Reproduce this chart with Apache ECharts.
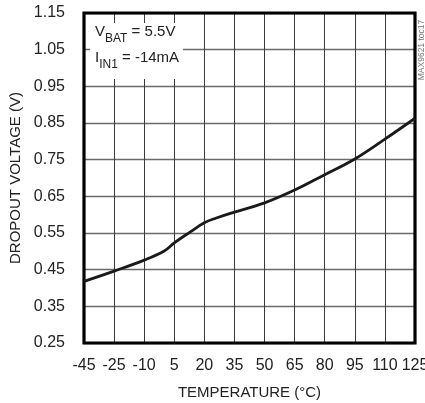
<!DOCTYPE html>
<html>
<head>
<meta charset="utf-8">
<script src="https://cdn.jsdelivr.net/npm/echarts@6/dist/echarts.min.js"></script>
<style>
  html, body { margin: 0; padding: 0; background: #fff; }
  #chart { width: 425px; height: 403px; }
</style>
</head>
<body>
<div id="chart"></div>
<script>
// Dropout voltage vs. temperature (V_BAT = 5.5V, I_IN1 = -14mA)
// Temperature positions along the axis (the left edge is the first tick)
const temperature = [-40, -25, -10, 0, 5, 13, 20, 26, 35, 50, 65, 80, 95, 110, 125];
const dropoutVoltage = [0.418, 0.446, 0.476, 0.501, 0.523, 0.553, 0.578, 0.591, 0.607, 0.632, 0.667, 0.709, 0.752, 0.806, 0.863];
const xTickLabels = ['-45', '-25', '-10', '5', '20', '35', '50', '65', '80', '95', '110', '125'];
const xTickValues = [-40, -25, -10, 5, 20, 35, 50, 65, 80, 95, 110, 125];

const FONT = "'Liberation Sans Narrow', 'Arial Narrow', 'Liberation Sans', sans-serif";
const TEXT = '#222';

const chart = echarts.init(document.getElementById('chart'), null, { renderer: 'canvas' });

chart.setOption({
  animation: false,
  backgroundColor: '#fff',
  grid: {
    left: 84, right: 10, top: 13, bottom: 60,
    outerBoundsMode: 'none',
    containLabel: false,
    show: true,
    borderColor: '#000',
    borderWidth: 3.2,
    backgroundColor: 'transparent',
    z: 4
  },
  xAxis: {
    type: 'value',
    min: -40,
    max: 125,
    interval: 15,
    name: 'TEMPERATURE (°C)',
    nameLocation: 'middle',
    nameGap: 42,
    nameTextStyle: { fontFamily: FONT, fontSize: 15, color: TEXT },
    axisLine: { show: false },
    axisTick: { show: false },
    axisLabel: {
      margin: 15,
      fontFamily: FONT, fontSize: 16, color: TEXT,
      showMinLabel: true,
      showMaxLabel: true,
      hideOverlap: false,
      interval: 0,
      formatter: v => {
        const i = xTickValues.indexOf(Math.round(v));
        return i >= 0 ? xTickLabels[i] : '';
      }
    },
    splitLine: { show: true, lineStyle: { color: '#3a3a3a', width: 1 } }
  },
  yAxis: {
    type: 'value',
    min: 0.25,
    max: 1.15,
    interval: 0.1,
    name: 'DROPOUT VOLTAGE (V)',
    nameLocation: 'middle',
    nameGap: 53,
    nameRotate: 90,
    nameTextStyle: { fontFamily: FONT, fontSize: 15, color: TEXT },
    axisLine: { show: false },
    axisTick: { show: false },
    axisLabel: {
      margin: 19,
      fontFamily: FONT, fontSize: 16, color: TEXT,
      formatter: v => v.toFixed(2)
    },
    splitLine: { show: true, lineStyle: { color: '#6a6a6a', width: 1.4 } }
  },
  series: [{
    type: 'line',
    data: temperature.map((t, i) => [t, dropoutVoltage[i]]),
    smooth: 0.4,
    showSymbol: false,
    lineStyle: { color: '#1a1a1a', width: 2.8 },
    z: 5
  }],
  graphic: [
    {
      type: 'rect',
      left: 90, top: 23,
      shape: { width: 93, height: 56 },
      style: { fill: '#fff' },
      z: 10
    },
    {
      type: 'text',
      left: 95, top: 24,
      z: 11,
      style: {
        text: '{m|V}{s|BAT}{m| = 5.5V}\n{m|I}{s|IN1}{m| = -14mA}',
        fill: TEXT,
        rich: {
          m: { fontFamily: FONT, fontSize: 15, lineHeight: 26, fill: TEXT },
          s: { fontFamily: FONT, fontSize: 12, lineHeight: 22, verticalAlign: 'bottom', fill: TEXT }
        }
      }
    },
    {
      type: 'text',
      x: 421.5, y: 50,
      rotation: Math.PI / 2,
      z: 11,
      style: {
        text: 'MAX9621 toc17',
        fontFamily: FONT,
        fontSize: 8.5,
        fill: '#777',
        align: 'center',
        verticalAlign: 'middle'
      }
    }
  ]
});
</script>
</body>
</html>
